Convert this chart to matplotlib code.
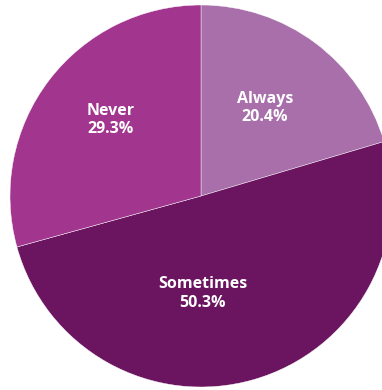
import matplotlib.pyplot as plt
import numpy as np

labels = ["Always", "Sometimes", "Never"]
shares = [20.4, 50.3, 29.3]
colors = ["#a86fab", "#6b1460", "#a2368f"]
# label anchor points (radius, angle in degrees)
label_pos = [(0.57, 54), (0.51, -89), (0.62, 140)]

fig = plt.figure(figsize=(3.82, 3.90), dpi=100)
ax = fig.add_axes([0, 0, 1, 1])

ax.pie(shares, colors=colors, startangle=90, counterclock=False,
       radius=1, wedgeprops=dict(edgecolor="white", linewidth=0.3))

for lab, val, (r, a) in zip(labels, shares, label_pos):
    x = r * np.cos(np.radians(a))
    y = r * np.sin(np.radians(a))
    ax.text(x, y, f"{lab}\n{val:.1f}%", ha="center", va="center",
            color="white", fontsize=11.5, fontweight="bold",
            family="Open Sans", linespacing=1.2)

ax.set_xlim(-201 / 191, (382 - 201) / 191)
ax.set_ylim(-(390 - 196) / 191, 196 / 191)
ax.set_aspect("auto")
ax.axis("off")

fig.savefig("out.png", dpi=100)
